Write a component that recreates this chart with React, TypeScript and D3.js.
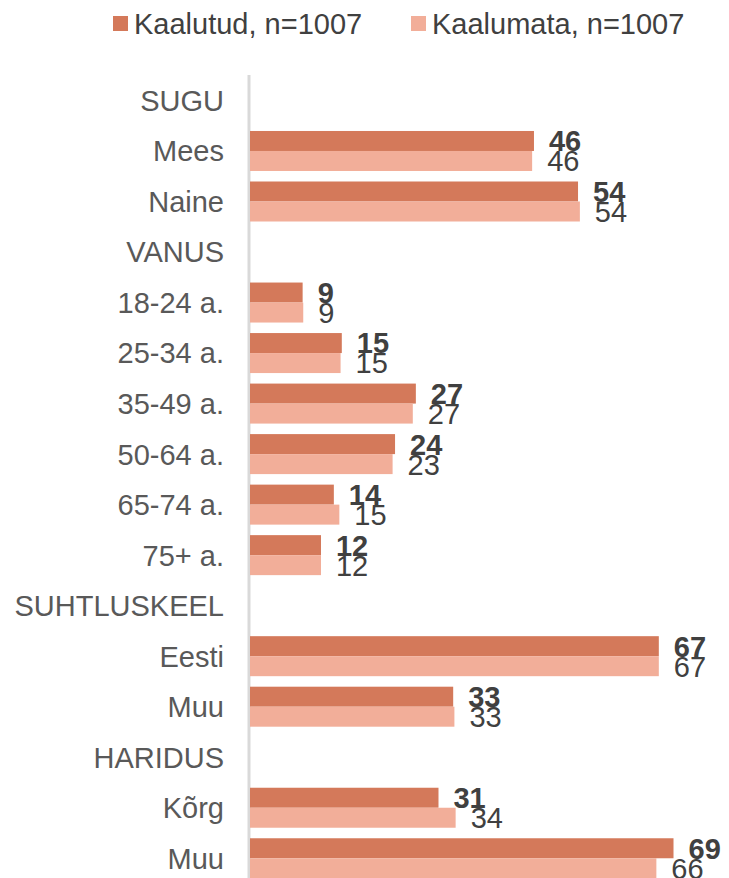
import React from "react";
import * as d3 from "d3";

const categories = [
  "SUGU", "Mees", "Naine",
  "VANUS", "18-24 a.", "25-34 a.", "35-49 a.", "50-64 a.", "65-74 a.", "75+ a.",
  "SUHTLUSKEEL", "Eesti", "Muu",
  "HARIDUS", "Kõrg", "Muu ",
];
const isHeader = [true, false, false, true, false, false, false, false, false, false, true, false, false, true, false, false];
const weighted: (number | null)[] = [null, 46.4, 53.6, null, 8.6, 15.0, 27.1, 23.7, 13.7, 11.6, null, 66.8, 33.2, null, 30.8, 69.2];
const unweighted: (number | null)[] = [null, 46.1, 53.9, null, 8.7, 14.8, 26.6, 23.3, 14.6, 11.6, null, 66.8, 33.4, null, 33.6, 66.4];
const seriesNames = ["Kaalutud, n=1007", "Kaalumata, n=1007"];
const colors = ["#D4795A", "#F2AE99"];

const W = 729;
const H = 878;
const FONT = "'Liberation Sans', Arial, sans-serif";
const FS = 29;

export default function App() {
  const x0 = 250;
  const y = d3.scaleBand<string>().domain(categories).range([75.2, 75.2 + 16 * 50.52]).paddingInner(0).paddingOuter(0);
  const x = d3.scaleLinear().domain([0, 100]).range([x0, x0 + 612]);
  const barH = 20;
  const series = [weighted, unweighted];

  return (
    <svg width={W} height={H} style={{ position: "absolute", left: 0, top: 0, background: "#fff" }} fontFamily={FONT}>
      {/* legend */}
      {seriesNames.map((n, i) => {
        const lx = i === 0 ? 113 : 411;
        return (
          <g key={n}>
            <rect x={lx} y={16} width={15} height={15} fill={colors[i]} />
            <text x={lx + 21} y={33.5} fontSize={FS} fill="#404040">{n}</text>
          </g>
        );
      })}
      {/* axis line */}
      <line x1={249} x2={249} y1={75} y2={H} stroke="#D9D9D9" strokeWidth={3} />
      {categories.map((c, i) => {
        const cy = (y(c) as number) + y.bandwidth() / 2;
        return (
          <g key={c + i}>
            <text x={224} y={cy + 10.4} textAnchor="end" fontSize={FS} fill="#595959">{c.trim()}</text>
            {!isHeader[i] && series.map((s, si) => {
              const v = s[i] as number;
              const by = cy - barH + si * barH;
              return (
                <g key={si}>
                  <rect x={x(0)} y={by} width={x(v) - x(0)} height={barH} fill={colors[si]} />
                  <text x={x(v) + 15} y={by + barH / 2 + 10.4} fontSize={FS} fontWeight={si === 0 ? "bold" : "normal"} fill="#404040">{Math.round(v)}</text>
                </g>
              );
            })}
          </g>
        );
      })}
    </svg>
  );
}
